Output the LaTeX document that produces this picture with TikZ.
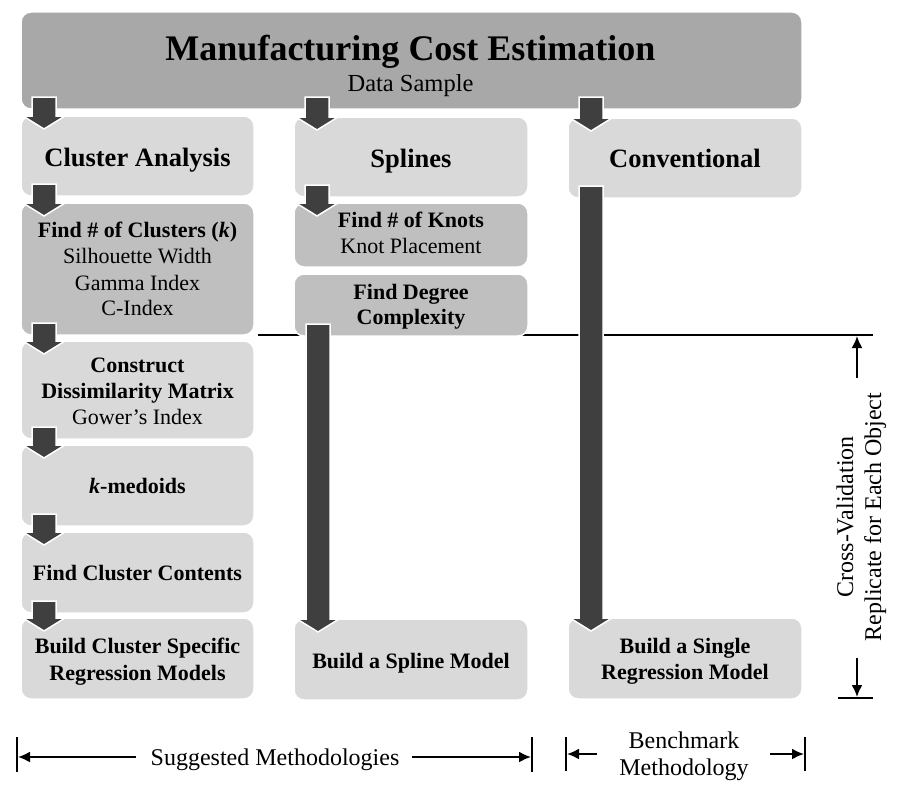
\documentclass[tikz,border=0pt]{standalone}
\usepackage{fontspec}
\setmainfont{Liberation Serif}
\usetikzlibrary{calc,arrows.meta}
\definecolor{topfill}{HTML}{A8A8A8}
\definecolor{lightfill}{HTML}{D9D9D9}
\definecolor{midfill}{HTML}{BFBFBF}
\definecolor{arrowfill}{HTML}{3F3F3F}
\newcommand\blockarr[3]{%
  \path[blockarrow] let \p1=(#1.south), \p2=(#2.north) in
    (#3pt-12pt,\y1+12pt) -- (#3pt+12pt,\y1+12pt) -- (#3pt+12pt,\y2) -- (#3pt+21pt,\y2)
    -- (#3pt,\y2-13pt) -- (#3pt-21pt,\y2) -- (#3pt-12pt,\y2) -- cycle;}
\begin{document}
\begin{tikzpicture}[x=1pt,y=-1pt,
  box/.style={draw=white, line width=1.5pt, rounded corners=10pt, inner sep=0pt, outer sep=0pt},
  lightbox/.style={box, fill=lightfill},
  midbox/.style={box, fill=midfill},
  txt/.style={anchor=base, inner sep=0pt, outer sep=0pt},
  hd/.style={txt, font=\fontsize{26.5}{30}\selectfont\bfseries},
  bb/.style={txt, font=\fontsize{22}{26}\selectfont\bfseries},
  rr/.style={txt, font=\fontsize{22}{26}\selectfont},
  lab/.style={txt, font=\fontsize{24}{28}\selectfont},
  blockarrow/.style={fill=arrowfill, draw=white, line width=1.5pt},
  dimline/.style={line width=2pt},
  dimarrow/.style={line width=2pt, -{Latex[length=12pt,width=11pt]}}
]
\useasboundingbox (0,0) rectangle (901,800);

% cross-validation line (behind boxes)
\coordinate (hlA) at (258,335);
\coordinate (hlB) at (873,335);
\draw[line width=1.6pt] (hlA) -- (hlB);

% boxes
\node[box, fill=topfill, minimum width=781pt, minimum height=97pt] (top) at (411.5,60.5) {};
\node[lightbox, minimum width=233pt, minimum height=80pt] (ca) at (137.5,156) {};
\node[midbox,   minimum width=233pt, minimum height=132pt] (fk) at (137.5,269) {};
\node[lightbox, minimum width=233pt, minimum height=98pt] (cd) at (137.5,390) {};
\node[lightbox, minimum width=233pt, minimum height=81pt] (km) at (137.5,485.5) {};
\node[lightbox, minimum width=233pt, minimum height=81pt] (cc) at (137.5,572.5) {};
\node[lightbox, minimum width=233pt, minimum height=81pt] (bc) at (137.5,658.5) {};
\node[lightbox, minimum width=234pt, minimum height=80pt] (sp) at (411,157) {};
\node[midbox,   minimum width=234pt, minimum height=64pt] (nk) at (411,235) {};
\node[midbox,   minimum width=234pt, minimum height=62pt] (dg) at (411,305) {};
\node[lightbox, minimum width=234pt, minimum height=81pt] (bs) at (411,659.5) {};
\node[lightbox, minimum width=234pt, minimum height=80pt] (cv) at (685,158) {};
\node[lightbox, minimum width=234pt, minimum height=81pt] (br) at (685,658.5) {};

% texts
\node[txt, font=\fontsize{36}{40}\selectfont\bfseries] (title) at (410.5,60) {Manufacturing Cost Estimation};
\node[txt, font=\fontsize{24.5}{28}\selectfont] (datas) at (410.5,91) {Data Sample};

\node[hd] (caT) at (137.5,166) {Cluster Analysis};
\node[bb] (fkA) at (137.5,237) {Find \# of Clusters (\textit{k})};
\node[rr] (fkB) at (137.5,263) {Silhouette Width};
\node[rr] (fkC) at (137.5,290) {Gamma Index};
\node[rr] (fkD) at (137.5,315) {C-Index};
\node[bb] (cdA) at (137.5,372) {Construct};
\node[bb] (cdB) at (137.5,398) {Dissimilarity Matrix};
\node[rr] (cdC) at (137.5,424) {Gower’s Index};
\node[bb] (kmT) at (137.5,493) {\textit{k}-medoids};
\node[bb] (ccT) at (137.5,580) {Find Cluster Contents};
\node[bb] (bcA) at (137.5,653) {Build Cluster Specific};
\node[bb] (bcB) at (137.5,680) {Regression Models};

\node[hd] (spT) at (411,167) {Splines};
\node[bb] (nkA) at (411,227) {Find \# of Knots};
\node[rr] (nkB) at (411,253) {Knot Placement};
\node[bb] (dgA) at (411,299) {Find Degree};
\node[bb] (dgB) at (411,324) {Complexity};
\node[bb] (bsT) at (411,668) {Build a Spline Model};

\node[hd] (cvT) at (685,167) {Conventional};
\node[bb] (brA) at (685,653) {Build a Single};
\node[bb] (brB) at (685,679) {Regression Model};

% block arrows
\blockarr{top}{ca}{44}
\blockarr{ca}{fk}{44}
\blockarr{fk}{cd}{44}
\blockarr{cd}{km}{44}
\blockarr{km}{cc}{44}
\blockarr{cc}{bc}{44}
\blockarr{top}{sp}{317}
\blockarr{sp}{nk}{317}
\blockarr{dg}{bs}{318}
\blockarr{top}{cv}{591}
\blockarr{cv}{br}{591}

% right-hand cross-validation dimension
\coordinate (vA) at (857,378);
\coordinate (vAt) at (857,336);
\coordinate (vB) at (857,658);
\coordinate (vBt) at (857,697);
\coordinate (barL) at (838,698);
\coordinate (barR) at (873,698);
\draw[dimarrow] (vA) -- (vAt);
\draw[dimarrow] (vB) -- (vBt);
\draw[dimline] (barL) -- (barR);
\node[lab, rotate=90] (cvl1) at (853,517) {Cross-Validation};
\node[lab, rotate=90] (cvl2) at (881,517) {Replicate for Each Object};

% bottom: suggested methodologies
\coordinate (s1a) at (17,737); \coordinate (s1b) at (17,772);
\coordinate (s2a) at (532,737); \coordinate (s2b) at (532,772);
\draw[dimline] (s1a) -- (s1b);
\draw[dimline] (s2a) -- (s2b);
\node[lab] (sugg) at (275,765) {Suggested Methodologies};
\coordinate (sl) at (136,757); \coordinate (slt) at (18,757);
\coordinate (sr) at (412,757); \coordinate (srt) at (531,757);
\draw[dimarrow] (sl) -- (slt);
\draw[dimarrow] (sr) -- (srt);

% bottom: benchmark methodology
\coordinate (b1a) at (566,737); \coordinate (b1b) at (566,771);
\coordinate (b2a) at (805,737); \coordinate (b2b) at (805,771);
\draw[dimline] (b1a) -- (b1b);
\draw[dimline] (b2a) -- (b2b);
\node[lab] (bm1) at (684,748) {Benchmark};
\node[lab] (bm2) at (684,775) {Methodology};
\coordinate (bl) at (597,754); \coordinate (blt) at (567,754);
\coordinate (br2) at (770,754); \coordinate (brt) at (804,754);
\draw[dimarrow] (bl) -- (blt);
\draw[dimarrow] (br2) -- (brt);
\end{tikzpicture}
\end{document}
